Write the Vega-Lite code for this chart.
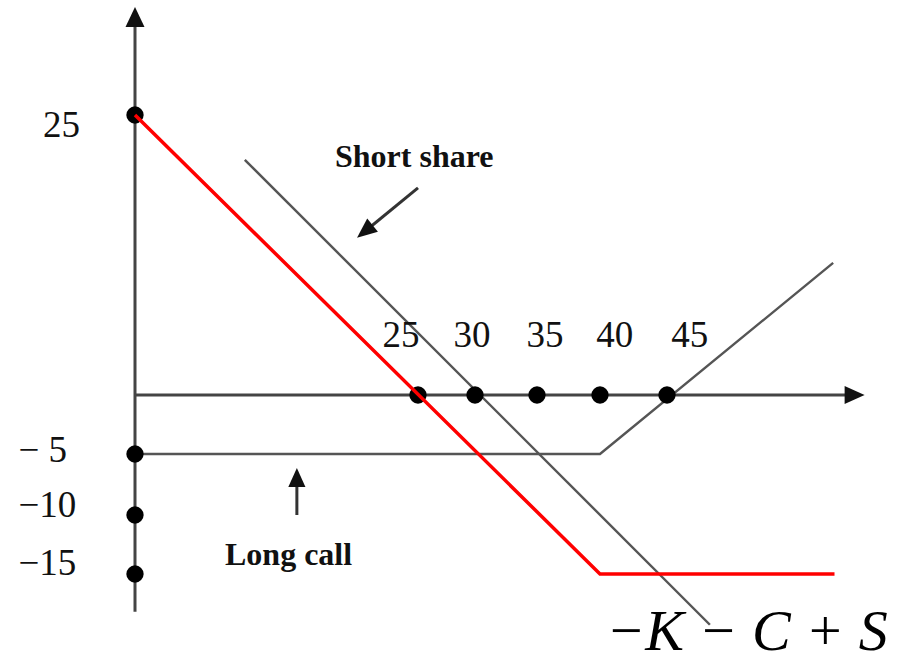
{
  "$schema": "https://vega.github.io/schema/vega-lite/v6.json",
  "width": 900,
  "height": 657,
  "padding": 0,
  "autosize": {"type": "none"},
  "background": "white",
  "config": {"view": {"stroke": null}},
  "encoding": {
    "x": {"field": "price", "type": "quantitative", "axis": null,
      "scale": {"domain": [0, 25, 30, 35, 40, 45], "range": [135, 418, 475, 537, 600, 667], "nice": false, "zero": false}},
    "y": {"field": "payoff", "type": "quantitative", "axis": null,
      "scale": {"domain": [-15, -10, -5, 0, 25], "range": [574, 515, 454, 395, 115], "nice": false, "zero": false}}
  },
  "layer": [
    {
      "data": {"values": [
        {"seg": "vertical axis", "price": 0, "payoff": -18.2},
        {"seg": "vertical axis", "price": 0, "payoff": 32.9},
        {"seg": "horizontal axis", "price": 0, "payoff": 0},
        {"seg": "horizontal axis", "price": 58.3, "payoff": 0}
      ]},
      "mark": {"type": "line", "color": "#444444", "strokeWidth": 3},
      "encoding": {"detail": {"field": "seg"}}
    },
    {
      "data": {"values": [{"price": 59.0, "payoff": 0}]},
      "mark": {"type": "point", "shape": "M-1,-0.9L1,0L-1,0.9Z", "filled": true, "color": "#111111", "opacity": 1, "size": 400, "strokeWidth": 0}
    },
    {
      "data": {"values": [{"price": 0, "payoff": 33.75}]},
      "mark": {"type": "point", "shape": "M-0.95,1L0,-1L0.95,1Z", "filled": true, "color": "#111111", "opacity": 1, "size": 400, "strokeWidth": 0}
    },
    {
      "data": {"values": [
        {"series": "Short share", "price": 9.7, "payoff": 21},
        {"series": "Short share", "price": 48.2, "payoff": -19.3},
        {"series": "Long call", "price": 0, "payoff": -5},
        {"series": "Long call", "price": 40, "payoff": -5},
        {"series": "Long call", "price": 57.4, "payoff": 11.8}
      ]},
      "mark": {"type": "line", "color": "#555555", "strokeWidth": 2.4},
      "encoding": {"detail": {"field": "series"}}
    },
    {
      "data": {"values": [
        {"arrow": "Short share", "price": 25, "payoff": 18.5},
        {"arrow": "Short share", "price": 20.3, "payoff": 14.6},
        {"arrow": "Long call", "price": 14.3, "payoff": -10},
        {"arrow": "Long call", "price": 14.3, "payoff": -6.9}
      ]},
      "mark": {"type": "line", "color": "#333333", "strokeWidth": 3},
      "encoding": {"detail": {"field": "arrow"}}
    },
    {
      "data": {"values": [{"price": 20.3, "payoff": 14.6}]},
      "mark": {"type": "point", "shape": "M-1,-0.85L1,0L-1,0.85Z", "angle": 141, "filled": true, "color": "#111111", "opacity": 1, "size": 400, "strokeWidth": 0}
    },
    {
      "data": {"values": [{"price": 14.3, "payoff": -6.93}]},
      "mark": {"type": "point", "shape": "M-0.9,1L0,-1L0.9,1Z", "filled": true, "color": "#111111", "opacity": 1, "size": 361, "strokeWidth": 0}
    },
    {
      "data": {"values": [
        {"price": 25, "payoff": 0}, {"price": 30, "payoff": 0}, {"price": 35, "payoff": 0},
        {"price": 40, "payoff": 0}, {"price": 45, "payoff": 0},
        {"price": 0, "payoff": 25}, {"price": 0, "payoff": -5}, {"price": 0, "payoff": -10}, {"price": 0, "payoff": -15}
      ]},
      "mark": {"type": "point", "shape": "circle", "filled": true, "color": "#000000", "opacity": 1, "size": 300, "strokeWidth": 0}
    },
    {
      "data": {"values": [
        {"price": 0, "payoff": 25},
        {"price": 40, "payoff": -15},
        {"price": 57.5, "payoff": -15}
      ]},
      "mark": {"type": "line", "color": "#ff0000", "strokeWidth": 3.5}
    },
    {
      "data": {"values": [
        {"label": "25", "price": 23.5, "payoff": 4.29},
        {"label": "30", "price": 29.74, "payoff": 4.29},
        {"label": "35", "price": 35.63, "payoff": 4.29},
        {"label": "40", "price": 41.1, "payoff": 4.29},
        {"label": "45", "price": 46.7, "payoff": 4.29}
      ]},
      "mark": {"type": "text", "font": "Liberation Serif", "fontSize": 37, "align": "center", "baseline": "alphabetic", "color": "#111111"},
      "encoding": {"text": {"field": "label"}}
    },
    {
      "data": {"values": [
        {"label": "25", "price": -8.13, "payoff": 23.0},
        {"label": "− 5", "price": -10.3, "payoff": -5.66},
        {"label": "−10", "price": -10.3, "payoff": -10.17},
        {"label": "−15", "price": -10.3, "payoff": -15.08}
      ]},
      "mark": {"type": "text", "font": "Liberation Serif", "fontSize": 37, "align": "left", "baseline": "alphabetic", "color": "#111111"},
      "encoding": {"text": {"field": "label"}}
    },
    {
      "data": {"values": [
        {"label": "Short share", "price": 17.67, "payoff": 20.36},
        {"label": "Long call", "price": 7.95, "payoff": -14.24}
      ]},
      "mark": {"type": "text", "font": "Liberation Serif", "fontSize": 32, "fontWeight": "bold", "align": "left", "baseline": "alphabetic", "color": "#111111"},
      "encoding": {"text": {"field": "label"}}
    },
    {
      "data": {"values": [
        {"label": "−K − C + S", "price": 40.45, "payoff": -21.44}
      ]},
      "mark": {"type": "text", "font": "Liberation Serif", "fontSize": 58, "fontStyle": "italic", "align": "left", "baseline": "alphabetic", "color": "#000000"},
      "encoding": {"text": {"field": "label"}}
    }
  ]
}
